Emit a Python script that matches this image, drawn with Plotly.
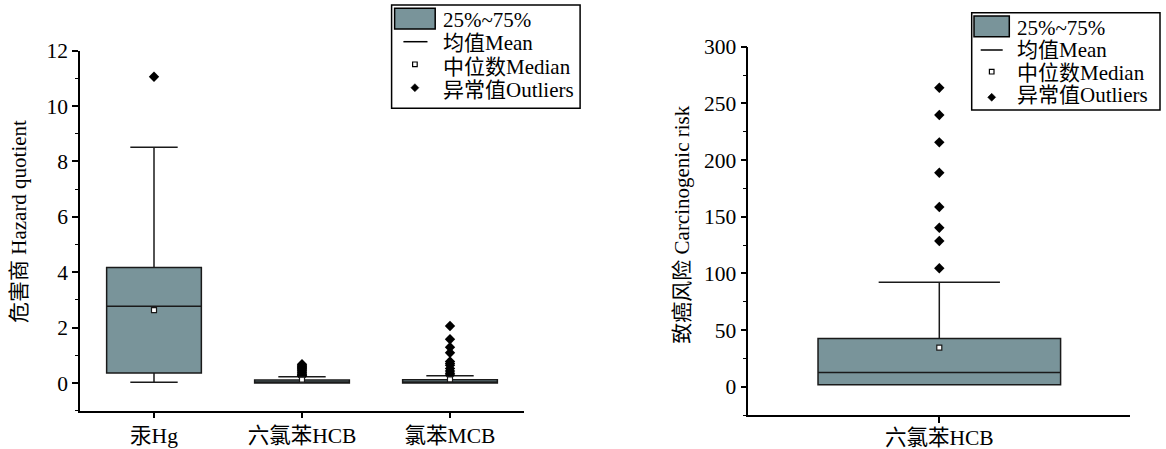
import plotly.graph_objects as go

W, H = 1166, 449
FONT = "Liberation Serif, Noto Sans CJK SC, serif"
FILL = '#79949A'
LINE = '#1a1a1a'

# ---------------- data ----------------
left_cats = ['汞Hg', '六氯苯HCB', '氯苯MCB']
left_q1 = [0.36, 0.0, 0.0]
left_mean = [2.77, 0.02, 0.03]
left_q3 = [4.17, 0.11, 0.12]
left_low = [0.03, 0.0, 0.0]
left_up = [8.51, 0.23, 0.26]
left_median = [2.63, 0.12, 0.13]
hg_outliers = [11.06]
hcb_outliers = [0.68, 0.64, 0.60, 0.56, 0.52, 0.48, 0.44, 0.40, 0.36, 0.32, 0.28, 0.25]
mcb_outliers = [2.06, 1.58, 1.29, 1.09, 0.78, 0.70, 0.64, 0.52, 0.43, 0.35, 0.29]

right_cats = ['六氯苯HCB']
right_q1 = [1.8]
right_mean = [12.4]
right_q3 = [42.4]
right_low = [1.8]
right_up = [92.1]
right_median = [34.4]
right_outliers = [263.8, 239.7, 215.6, 188.8, 158.6, 140.3, 128.6, 104.5]

left_ticks = [0, 2, 4, 6, 8, 10, 12]
right_ticks = [0, 50, 100, 150, 200, 250, 300]

legend_labels = ['25%~75%', '均值Mean', '中位数Median', '异常值Outliers']
left_ytitle = '危害商 Hazard quotient'
right_ytitle = '致癌风险 Carcinogenic risk'


def PX(x):
    return x / W


def PY(y):
    return 1 - y / H


fig = go.Figure()

# left boxes
fig.add_trace(go.Box(
    x=left_cats, q1=left_q1, median=left_mean, q3=left_q3,
    lowerfence=left_low, upperfence=left_up,
    width=0.64, whiskerwidth=0.5, fillcolor=FILL,
    line=dict(color=LINE, width=1.5), boxpoints=False,
    xaxis='x', yaxis='y', showlegend=False, hoverinfo='skip'))

out_x = [left_cats[0]] * len(hg_outliers) + [left_cats[1]] * len(hcb_outliers) + [left_cats[2]] * len(mcb_outliers)
out_y = hg_outliers + hcb_outliers + mcb_outliers
fig.add_trace(go.Scatter(
    x=out_x, y=out_y, mode='markers', xaxis='x', yaxis='y',
    marker=dict(symbol='diamond', size=8, color='black'),
    showlegend=False, hoverinfo='skip'))
fig.add_trace(go.Scatter(
    x=left_cats, y=left_median, mode='markers', xaxis='x', yaxis='y',
    marker=dict(symbol='square', size=5, color='white', line=dict(color=LINE, width=1.2)),
    showlegend=False, hoverinfo='skip'))

# right box
fig.add_trace(go.Box(
    x=right_cats, q1=right_q1, median=right_mean, q3=right_q3,
    lowerfence=right_low, upperfence=right_up,
    width=0.635, whiskerwidth=0.5, fillcolor=FILL,
    line=dict(color=LINE, width=1.5), boxpoints=False,
    xaxis='x2', yaxis='y2', showlegend=False, hoverinfo='skip'))
fig.add_trace(go.Scatter(
    x=right_cats * len(right_outliers), y=right_outliers, mode='markers',
    xaxis='x2', yaxis='y2',
    marker=dict(symbol='diamond', size=8, color='black'),
    showlegend=False, hoverinfo='skip'))
fig.add_trace(go.Scatter(
    x=right_cats, y=right_median, mode='markers', xaxis='x2', yaxis='y2',
    marker=dict(symbol='square', size=5, color='white', line=dict(color=LINE, width=1.2)),
    showlegend=False, hoverinfo='skip'))

tickfont = dict(family=FONT, size=21.5, color='black')


def xax(domain, cats, anchor, standoff):
    return dict(domain=domain, anchor=anchor, type='category', categoryarray=cats,
                range=[-0.5, len(cats) - 0.5], showline=True, linecolor='black', linewidth=1.5,
                ticks='outside', ticklen=6, tickwidth=1.5, tickcolor='black', automargin=False,
                ticklabelstandoff=standoff,
                showgrid=False, zeroline=False, tickfont=tickfont, fixedrange=True)


def yax(domain, rng, ticks, minor_dt, anchor):
    return dict(domain=domain, anchor=anchor, range=rng, tickvals=ticks,
                ticktext=[str(t) for t in ticks], automargin=False,
                showline=True, linecolor='black', linewidth=1.5,
                ticks='outside', ticklen=6, tickwidth=1.5, tickcolor='black',
                minor=dict(ticks='outside', ticklen=3.5, tickwidth=1.2, tickcolor='black',
                           dtick=minor_dt, tick0=0, showgrid=False),
                showgrid=False, zeroline=False, tickfont=tickfont, fixedrange=True)


shapes = []
annotations = []


def legend(box, patch, line_seg, mx, sq_y, dia_y, text_x, text_ys):
    x0, y0, x1, y1 = box
    shapes.append(dict(type='rect', xref='paper', yref='paper', x0=PX(x0), x1=PX(x1),
                       y0=PY(y1), y1=PY(y0), line=dict(color='black', width=1.5),
                       fillcolor='white', layer='above'))
    px0, py0, px1, py1 = patch
    shapes.append(dict(type='rect', xref='paper', yref='paper', x0=PX(px0), x1=PX(px1),
                       y0=PY(py1), y1=PY(py0), line=dict(color='black', width=1.5),
                       fillcolor=FILL, layer='above'))
    lx0, lx1, ly = line_seg
    shapes.append(dict(type='line', xref='paper', yref='paper', x0=PX(lx0), x1=PX(lx1),
                       y0=PY(ly), y1=PY(ly), line=dict(color='black', width=1.5), layer='above'))
    s = 2.3
    shapes.append(dict(type='rect', xref='paper', yref='paper', x0=PX(mx - s), x1=PX(mx + s),
                       y0=PY(sq_y + s), y1=PY(sq_y - s), line=dict(color='black', width=1.2),
                       fillcolor='white', layer='above'))
    d = 4
    path = 'M {} {} L {} {} L {} {} L {} {} Z'.format(
        PX(mx - d), PY(dia_y), PX(mx), PY(dia_y - d), PX(mx + d), PY(dia_y), PX(mx), PY(dia_y + d))
    shapes.append(dict(type='path', xref='paper', yref='paper', path=path,
                       line=dict(color='black', width=0.5), fillcolor='black', layer='above'))
    for lab, ty in zip(legend_labels, text_ys):
        annotations.append(dict(text=lab, xref='paper', yref='paper', x=PX(text_x), y=PY(ty),
                                xanchor='left', yanchor='middle', showarrow=False,
                                font=dict(family=FONT, size=21, color='black')))


legend((391.6, 5, 580.1, 108.3), (394.6, 8.3, 435.2, 29), (403.4, 427.5, 41.7), 414.9, 64.3, 87.7,
       440.5, [20.5, 43, 66.5, 89.5])
legend((971.7, 12.7, 1160, 110), (974, 16, 1009.3, 36.7), (980.7, 1002.7, 50), 991.7, 71.7, 97.3,
       1015, [27.5, 50, 72.5, 95])

annotations.append(dict(text=left_ytitle, xref='paper', yref='paper', x=PX(19), y=PY(222),
                        textangle=-90, showarrow=False, xanchor='center', yanchor='middle',
                        font=dict(family=FONT, size=21, color='black')))
annotations.append(dict(text=right_ytitle, xref='paper', yref='paper', x=PX(681.7), y=PY(225),
                        textangle=-90, showarrow=False, xanchor='center', yanchor='middle',
                        font=dict(family=FONT, size=21, color='black')))

fig.update_layout(
    template='none',
    width=W, height=H, autosize=False,
    margin=dict(l=0, r=0, t=0, b=0, pad=0),
    paper_bgcolor='white', plot_bgcolor='white',
    font=dict(family=FONT, color='black'),
    xaxis=xax([PX(80), PX(524)], left_cats, 'y', -1),
    yaxis=yax([PY(410.7), PY(50.7)], [-1, 12], left_ticks, 1, 'x'),
    xaxis2=xax([PX(748.3), PX(1130.3)], right_cats, 'y2', -4),
    yaxis2=yax([PY(415), PY(46.7)], [-25, 300], right_ticks, 25, 'x2'),
    shapes=shapes, annotations=annotations,
    boxmode='overlay',
)

fig.write_html("out.html", config=dict(displayModeBar=False),
               post_script="document.body.style.margin='0';")
